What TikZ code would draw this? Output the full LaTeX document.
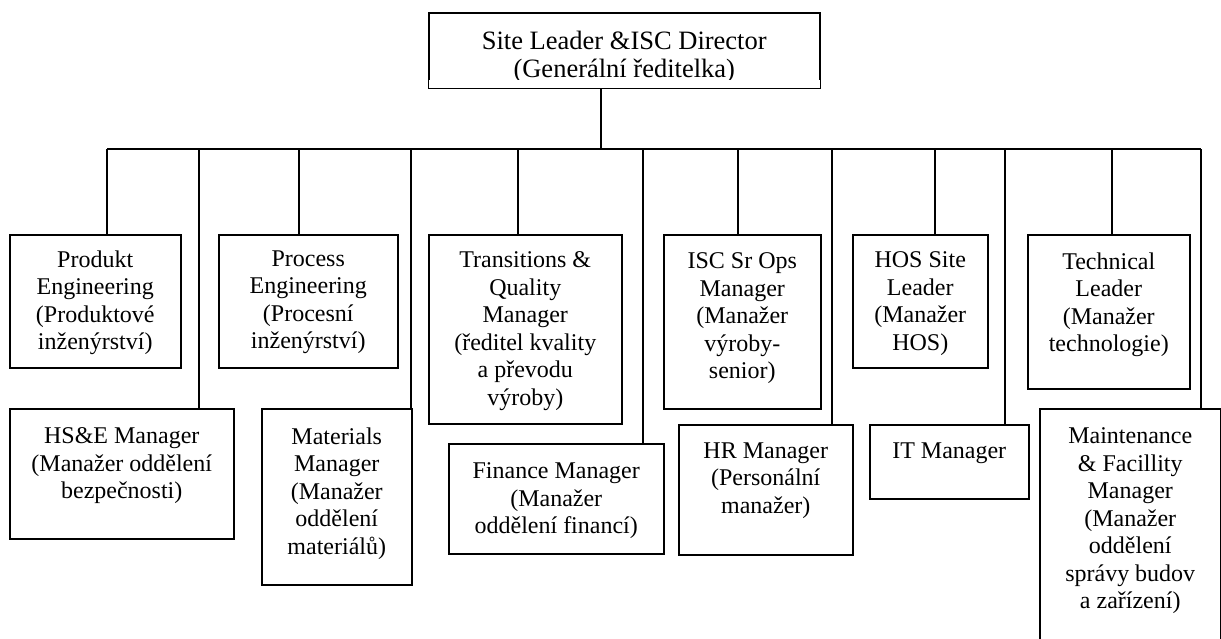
\documentclass[tikz,border=0pt]{standalone}
\usepackage{fontspec}
\setmainfont{Liberation Serif}

% text of one box: width, height, top gap, lines
\newcommand{\rolebox}[4]{\parbox[c][#2][t]{#1}{\centering\vspace*{#3}#4}}

\tikzset{
  unit/.style={draw, line width=1.5pt, anchor=north west, inner sep=0pt,
    font=\fontsize{24}{27.5}\selectfont},
  headunit/.style={unit, font=\fontsize{26.5}{28}\selectfont},
  link/.style={line width=1.5pt},
}

\begin{document}
\begin{tikzpicture}[x=1pt, y=-1pt]
  \useasboundingbox (0,0) rectangle (1221,638);
  % head
  \node[headunit] (lead) at (428,12) {\rolebox{391pt}{75pt}{18pt}{Site Leader \&ISC Director\\(Generální ředitelka)}};
  \fill[white] ([shift={(1pt,1pt)}]lead.south west) rectangle ([shift={(-1pt,9pt)}]lead.south east);
  % upper row
  \node[unit] (prod) at (9,234) {\rolebox{171pt}{133pt}{16pt}{Produkt\\Engineering\\(Produktové\\inženýrství)}};
  \node[unit] (proc) at (218,234) {\rolebox{179pt}{133pt}{16pt}{Process\\Engineering\\(Procesní\\inženýrství)}};
  \node[unit] (qual) at (428,234) {\rolebox{193pt}{189pt}{17pt}{Transitions \&\\Quality\\Manager\\(ředitel kvality\\a převodu\\výroby)}};
  \node[unit] (ops) at (663,234) {\rolebox{157pt}{174pt}{18pt}{ISC Sr Ops\\Manager\\(Manažer\\výroby-\\senior)}};
  \node[unit] (hos) at (852,234) {\rolebox{135pt}{133pt}{17pt}{HOS Site\\Leader\\(Manažer\\HOS)}};
  \node[unit] (tech) at (1027,234) {\rolebox{162pt}{154pt}{18pt}{Technical\\Leader\\(Manažer\\technologie)}};
  % lower row
  \node[unit] (hse) at (9,408) {\rolebox{224pt}{130pt}{19pt}{HS\&E Manager\\(Manažer oddělení\\bezpečnosti)}};
  \node[unit] (mat) at (261,408) {\rolebox{150pt}{176pt}{19pt}{Materials\\Manager\\(Manažer\\oddělení\\materiálů)}};
  \node[unit] (fin) at (448,443) {\rolebox{215pt}{110pt}{19pt}{Finance Manager\\(Manažer\\oddělení financí)}};
  \node[unit] (hr) at (678,424) {\rolebox{174pt}{130pt}{18pt}{HR Manager\\(Personální\\manažer)}};
  \node[unit] (it) at (869,424) {\rolebox{159pt}{74pt}{18pt}{IT Manager}};
  \node[unit] (maint) at (1039,408) {\rolebox{181pt}{250pt}{19pt}{Maintenance\\\& Facillity\\Manager\\(Manažer\\oddělení\\správy budov\\a zařízení)}};
  % bus
  \coordinate (hub) at (601,149);
  \coordinate (busL) at (107,149);
  \coordinate (busR) at (1201,149);
  \draw[link] (lead.south -| hub) -- (hub);
  \draw[link] (busL) -- (busR);
  \foreach \name/\x in {prod/107, hse/199, proc/299, mat/411, qual/518, fin/643,
      ops/738, hr/832, hos/935, it/1005, tech/1112, maint/1201} {
    \coordinate (d\name) at (\x,149);
    \draw[link] (d\name) -- (d\name |- \name.north);
  }
\end{tikzpicture}
\end{document}
